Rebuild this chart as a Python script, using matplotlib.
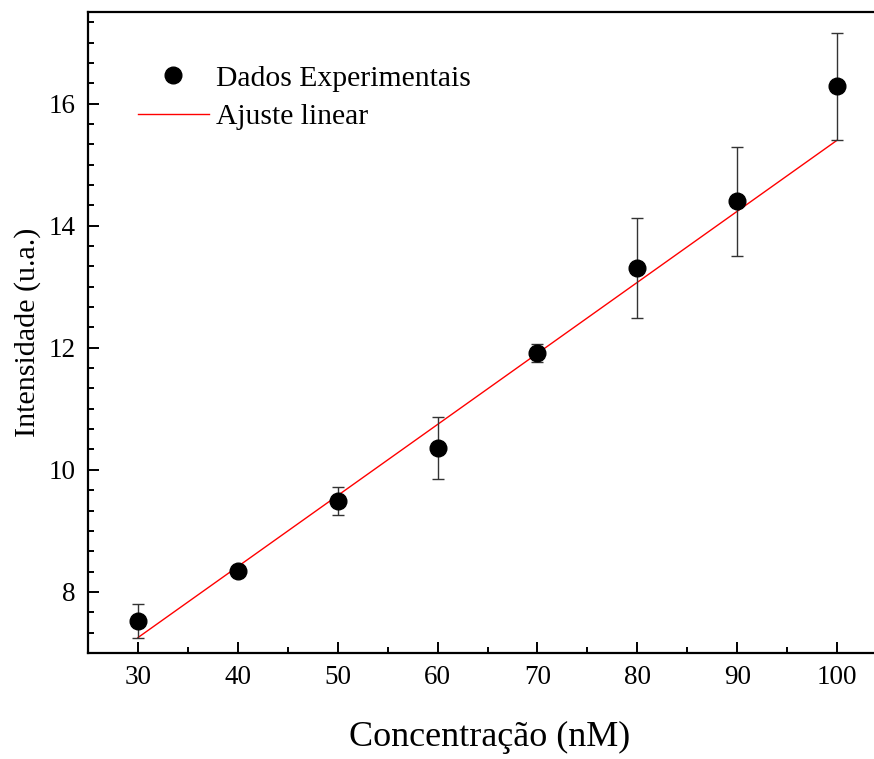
import matplotlib.pyplot as plt
import numpy as np
from matplotlib.ticker import AutoMinorLocator, MultipleLocator

plt.rcParams['font.family'] = ['Liberation Serif', 'DejaVu Serif']

# Dados medidos
concentracao = [30, 40, 50, 60, 70, 80, 90, 100]
intensidade = [7.53, 8.34, 9.49, 10.36, 11.91, 13.30, 14.40, 16.28]
erro = [0.28, 0.05, 0.23, 0.51, 0.15, 0.82, 0.89, 0.88]

# Parametros do ajuste linear (y = a + b*x)
a_fit = 3.76
b_fit = 0.1164

fig = plt.figure(figsize=(8.74, 7.59), dpi=100)
# eixo direito fica um pouco fora da figura
ax = fig.add_axes([0.1007, 0.1397, 0.92, 0.8445])

x_fit = np.array([concentracao[0], concentracao[-1]])
ax.plot(x_fit, a_fit + b_fit * x_fit, color='red', lw=1.0, label='Ajuste linear', zorder=2)
ax.errorbar(concentracao, intensidade, yerr=erro, fmt='none',
            ecolor='#333333', elinewidth=1.0, capsize=4, capthick=1.0, zorder=3)
ax.plot(concentracao, intensidade, 'o', color='black', ms=12,
        label='Dados Experimentais', zorder=4)

ax.set_xlim(25, 105.5)
ax.set_ylim(7, 17.5)
ax.xaxis.set_major_locator(MultipleLocator(10))
ax.xaxis.set_minor_locator(AutoMinorLocator(2))
ax.yaxis.set_major_locator(MultipleLocator(2))
ax.yaxis.set_minor_locator(AutoMinorLocator(6))
ax.tick_params(which='both', direction='in', width=1.4, labelsize=19.5)
ax.tick_params(which='major', length=8, pad=9)
ax.tick_params(which='minor', length=4.5)
for s in ax.spines.values():
    s.set_linewidth(1.6)

ax.set_xlabel('Concentração (nM)', fontsize=26, labelpad=22)
ax.set_ylabel('Intensidade (u.a.)', fontsize=21.6, labelpad=5)

h, l = ax.get_legend_handles_labels()
ax.legend(h[::-1], l[::-1], loc='upper left', bbox_to_anchor=(0.047, 0.936), frameon=False,
          fontsize=21.3, handlelength=2.4, handletextpad=0.25, labelspacing=0.4,
          borderaxespad=0)

fig.savefig('out.png', dpi=100)
